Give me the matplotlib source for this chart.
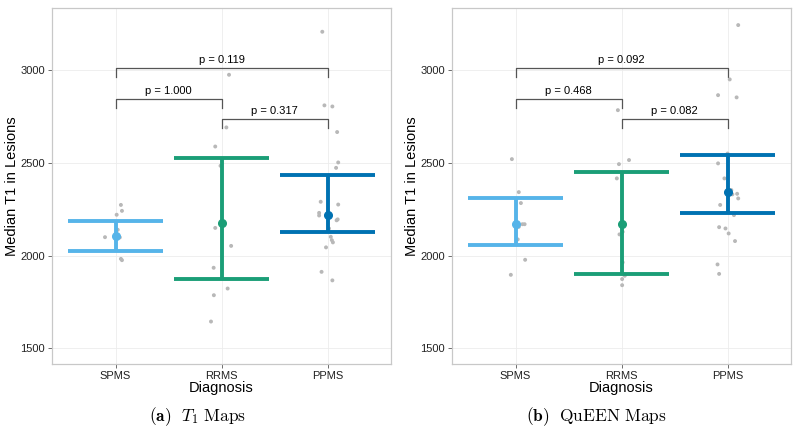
import numpy as np
import matplotlib
matplotlib.use("Agg")
import matplotlib.pyplot as plt

plt.rcParams["font.family"] = ["Liberation Sans", "DejaVu Sans"]
plt.rcParams["mathtext.fontset"] = "cm"

groups = ["SPMS", "RRMS", "PPMS"]
colors = ["#56B4E9", "#1B9E77", "#0072B2"]

# panel (a): T1 maps
t1_points = [
    [2273, 2241, 2220, 2139, 2099, 2098, 1982, 1975],
    [2975, 2691, 2588, 2484, 2149, 2052, 1934, 1822, 1786, 1644],
    [3207, 2810, 2804, 2666, 2502, 2473, 2290, 2275, 2230, 2216, 2195, 2190,
     2146, 2101, 2083, 2071, 2044, 1912, 1866],
]
t1_jitter = [
    [0.05, 0.06, 0.01, 0.02, -0.10, 0.04, 0.05, 0.06],
    [0.07, 0.045, -0.06, -0.01, -0.06, 0.09, -0.075, 0.057, -0.073, -0.10],
    [-0.05, -0.03, 0.045, 0.09, 0.10, 0.08, -0.065, 0.10, -0.08, -0.08, 0.095,
     0.085, 0.013, 0.03, 0.04, 0.05, -0.015, -0.057, 0.045],
]
t1_mean = [2108, 2177, 2220]
t1_low = [2027, 1876, 2128]
t1_high = [2187, 2524, 2435]
t1_pvals = ["p = 0.119", "p = 1.000", "p = 0.317"]

# panel (b): QuEEN maps
q_points = [
    [2520, 2342, 2283, 2169, 2169, 2155, 2087, 1977, 1896],
    [2784, 2515, 2493, 2416, 2128, 2114, 1963, 1891, 1873, 1840],
    [3243, 2950, 2865, 2853, 2550, 2497, 2416, 2353, 2330, 2333, 2308, 2273,
     2218, 2153, 2146, 2119, 2078, 1952, 1901],
]
q_jitter = [
    [-0.035, 0.03, 0.05, 0.065, 0.085, 0.03, 0.02, 0.09, -0.045],
    [-0.035, 0.07, -0.025, -0.045, 0.01, -0.02, 0.01, 0.03, 0.005, 0.005],
    [0.10, 0.02, -0.09, 0.085, 0.0, -0.09, -0.03, 0.035, 0.045, 0.09, 0.10,
     -0.07, 0.06, -0.08, -0.02, 0.01, 0.07, -0.095, -0.08],
]
q_mean = [2171, 2171, 2340]
q_low = [2056, 1903, 2229]
q_high = [2311, 2451, 2542]
q_pvals = ["p = 0.092", "p = 0.468", "p = 0.082"]

# brackets: (from group, to group, top, tip)
brackets = [(0, 2, 3010, 2964), (0, 1, 2845, 2797), (1, 2, 2737, 2687)]


def draw_panel(ax, points, jitter, mean, low, high, pvals):
    x = np.arange(1, 4)
    for i in range(3):
        ax.scatter(x[i] + np.array(jitter[i]), points[i], s=8, color="#b8b8b8",
                   edgecolors="none", zorder=2)
        ax.plot([x[i], x[i]], [low[i], high[i]], color=colors[i], lw=2.8,
                zorder=3, solid_capstyle="butt")
        for yv in (low[i], high[i]):
            ax.plot([x[i] - 0.45, x[i] + 0.45], [yv, yv], color=colors[i],
                    lw=2.8, zorder=3, solid_capstyle="butt")
        ax.plot(x[i], mean[i], "o", color=colors[i], ms=5.5, zorder=4)

    for (a, b, top, tip), lab in zip(brackets, pvals):
        ax.plot([x[a], x[a], x[b], x[b]], [tip, top, top, tip],
                color="#555555", lw=0.9, zorder=1)
        ax.text((x[a] + x[b]) / 2, top + 18, lab, ha="center", va="bottom",
                fontsize=8)

    ax.set_xlim(0.4, 3.6)
    ax.set_ylim(1414, 3334)
    ax.set_xticks(x)
    ax.set_xticklabels(groups)
    ax.set_yticks([1500, 2000, 2500, 3000])
    ax.set_xlabel("Diagnosis", fontsize=10.5, labelpad=0)
    ax.set_ylabel("Median T1 in Lesions", fontsize=10.5, labelpad=1)
    ax.tick_params(labelsize=8, length=3, color="#555555", width=0.6,
                   pad=2, labelcolor="#222222")
    ax.grid(True, color="#ececec", lw=0.6)
    ax.set_axisbelow(True)
    for sp in ax.spines.values():
        sp.set_color("#c8c8c8")
        sp.set_linewidth(0.9)


fig = plt.figure(figsize=(8, 4.32), dpi=100)
ax1 = fig.add_axes([0.065, 0.157, 0.424, 0.824])
ax2 = fig.add_axes([0.565, 0.157, 0.424, 0.824])

draw_panel(ax1, t1_points, t1_jitter, t1_mean, t1_low, t1_high, t1_pvals)
draw_panel(ax2, q_points, q_jitter, q_mean, q_low, q_high, q_pvals)

fig.text(0.247, 0.025, r"$\mathbf{(a)}\ \ T_1\ \mathrm{Maps}$", ha="center",
         fontsize=12.5)
fig.text(0.745, 0.025, r"$\mathbf{(b)}\ \ \mathrm{QuEEN\ Maps}$", ha="center",
         fontsize=12.5)

fig.savefig("out.png", dpi=100)
